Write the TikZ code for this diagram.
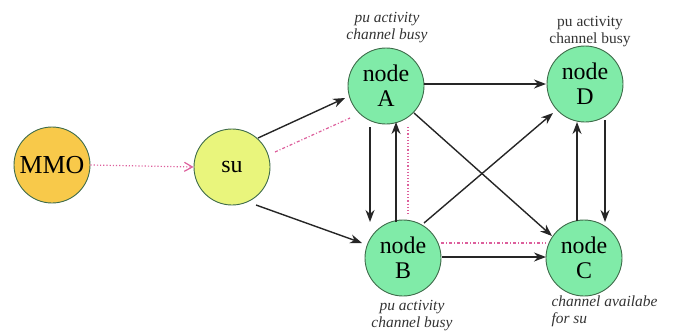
\documentclass[tikz,border=0pt]{standalone}
\usepackage{fontspec}
\setmainfont{Liberation Serif}
\usetikzlibrary{arrows.meta}
\definecolor{mmofill}{HTML}{F8C94A}
\definecolor{sufill}{HTML}{E9F57C}
\definecolor{gfill}{HTML}{80EBA8}
\definecolor{gborder}{HTML}{3E6B4A}
\definecolor{pinkline}{HTML}{DD5F9C}
\definecolor{lblgray}{HTML}{333333}
\tikzset{
  circ/.style={circle, draw=gborder, line width=0.9bp, minimum size=76bp, inner sep=0pt, align=center, font=\fontsize{24}{25}\selectfont},
  gnode/.style={circ, fill=gfill},
  arr/.style={-{Stealth[length=12bp,width=9bp]}, line width=1.4bp, black!85},
  pinkdot/.style={pinkline, dotted, line width=1.2bp},
  pinkdash/.style={pinkline, dash pattern=on 3bp off 2bp on 1bp off 2bp, line width=1.2bp},
  lbl/.style={align=center, font=\fontsize{15.5}{17}\selectfont\itshape, text=lblgray},
}
\begin{document}
\begin{tikzpicture}[x=1bp,y=-1bp]
\useasboundingbox (0,0) rectangle (677,333);
\node[circ, fill=mmofill, font=\fontsize{26}{26}\selectfont] (mmo) at (52,165) {MMO};
\node[circ, fill=sufill] (su) at (232,167) {su};
\node[gnode] (A) at (386,86) {node\\A};
\node[gnode] (D) at (585,84) {node\\D};
\node[gnode] (B) at (403,258) {node\\B};
\node[gnode] (C) at (584,258) {node\\C};

\node[lbl] (la) at (387,28) {pu activity\\channel busy};
\node[lbl, font=\fontsize{15.5}{17}\selectfont\upshape] (ld) at (590,32) {pu activity\\channel busy};
\node[lbl] (lb) at (412,316) {pu activity\\channel busy};
\node[lbl, align=left, anchor=west] (lc) at (548,311) {channel availabe\\for su};

\draw[pinkdot, -{Straight Barb[length=8bp,width=9bp,open]}] (mmo.east) -- (su.west);
\draw[arr] (258,138) -- (345,98);
\draw[pinkdash] (275,152) -- (350,118);
\draw[arr] (256,205) -- (362,243);
\draw[arr] (370,127) -- (370,222);
\draw[arr] (396,222) -- (396,122);
\draw[pinkdot] (408,127) -- (408,215);
\draw[arr] (424,84) -- (546,84);
\draw[arr] (414,113) -- (552,236);
\draw[arr] (424,223) -- (553,113);
\draw[arr] (442,257) -- (546,257);
\draw[pinkdash] (441,243) -- (546,243);
\draw[arr] (577,221) -- (577,122);
\draw[arr] (605,120) -- (605,222);
\end{tikzpicture}
\end{document}
